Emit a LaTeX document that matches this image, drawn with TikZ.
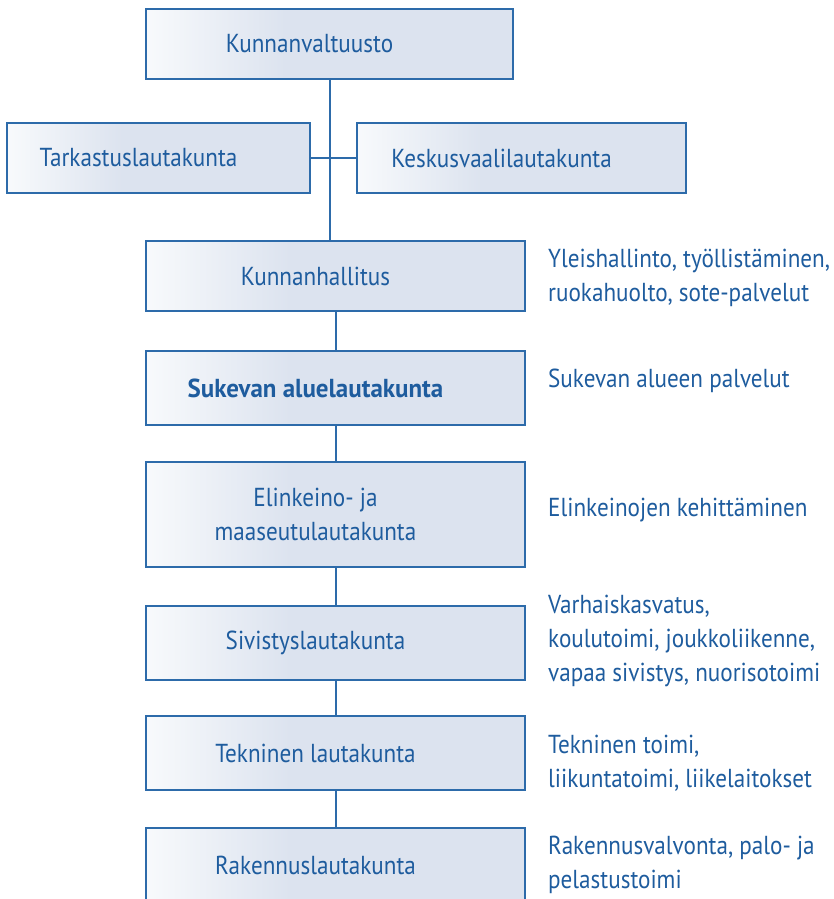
\documentclass[tikz,border=0pt]{standalone}
\usepackage{fontspec}
\setmainfont{PT Sans}[FakeStretch=0.89, BoldFeatures={FakeStretch=0.96}]
\usetikzlibrary{positioning}
\definecolor{boxline}{HTML}{2D6BAA}
\definecolor{boxfill}{HTML}{DCE3EF}
\definecolor{boxlight}{HTML}{F8FAFC}
\definecolor{txtblue}{HTML}{1E5C9E}
\pgfdeclarehorizontalshading{boxshade}{100bp}{color(0bp)=(boxlight); color(25bp)=(boxlight); color(44bp)=(boxfill); color(100bp)=(boxfill)}
\tikzset{
  orgbox/.style={draw=boxline, line width=2.2pt, shading=boxshade,
    minimum width=#1, minimum height=70pt, inner sep=0pt,
    text=txtblue, align=center, execute at end node={\hspace*{40pt}}},
  desc/.style={anchor=west, align=left, text=txtblue, inner sep=0pt},
  link/.style={draw=boxline, line width=2pt}
}

\begin{document}
\begin{tikzpicture}[x=1pt, y=-1pt, font=\fontsize{26}{34}\selectfont]
\useasboundingbox (0,0) rectangle (834,899);
\node[orgbox=367pt] (valtuusto) at (329.5,44) {Kunnanvaltuusto};
\node[orgbox=303pt] (tarkastus) at (158.5,158) {Tarkastuslautakunta};
\node[orgbox=329pt] (keskus) at (521.5,158) {Keskusvaalilautakunta};
\node[orgbox=379pt] (hallitus) at (335.5,276) {Kunnanhallitus};
\node[orgbox=379pt, minimum height=74pt] (sukevan) at (335.5,388) {\bfseries Sukevan aluelautakunta};
\node[orgbox=379pt, minimum height=105pt] (elinkeino) at (335.5,514.5) {Elinkeino- ja\\maaseutulautakunta};
\node[orgbox=379pt, minimum height=74pt] (sivistys) at (335.5,643) {Sivistyslautakunta};
\node[orgbox=379pt, minimum height=74pt] (tekninen) at (335.5,753) {Tekninen lautakunta};
\node[orgbox=379pt, minimum height=74pt] (rakennus) at (335.5,865) {Rakennuslautakunta};

\draw[link] (valtuusto) -- (valtuusto |- hallitus.north);
\draw[link] (tarkastus) -- (keskus);
\draw[link] (hallitus) -- (sukevan);
\draw[link] (sukevan) -- (elinkeino);
\draw[link] (elinkeino) -- (sivistys);
\draw[link] (sivistys) -- (tekninen);
\draw[link] (tekninen) -- (rakennus);

\node[desc] (hallitusdesc) at (548,278) {Yleishallinto, työllistäminen,\\ruokahuolto, sote-palvelut};
\node[desc] (sukevandesc) at (548,381) {Sukevan alueen palvelut};
\node[desc] (elinkeinodesc) at (548,510) {Elinkeinojen kehittäminen};
\node[desc] (sivistysdesc) at (548,641) {Varhaiskasvatus,\\koulutoimi, joukkoliikenne,\\vapaa sivistys, nuorisotoimi};
\node[desc] (tekninendesc) at (548,763) {Tekninen toimi,\\liikuntatoimi, liikelaitokset};
\node[desc] (rakennusdesc) at (548,865) {Rakennusvalvonta, palo- ja\\pelastustoimi};
\end{tikzpicture}
\end{document}
